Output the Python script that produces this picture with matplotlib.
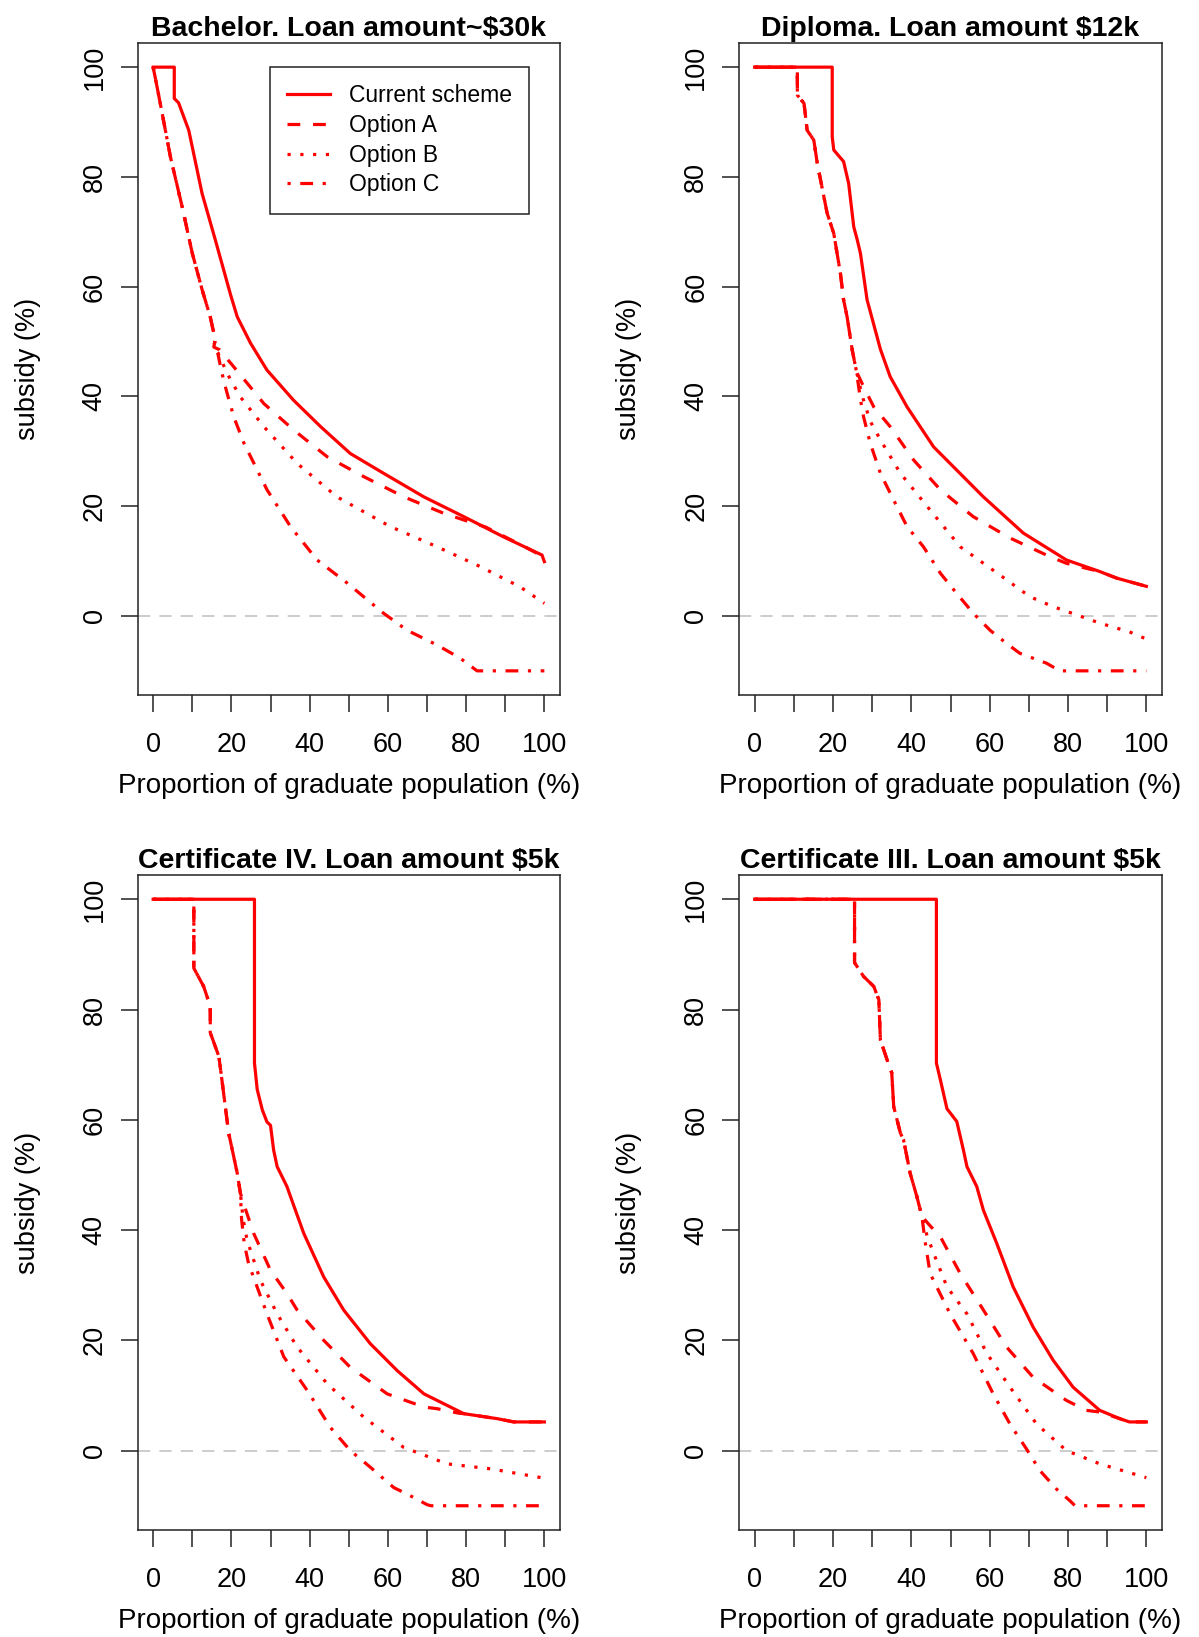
import matplotlib.pyplot as plt
import numpy as np

plt.rcParams['font.family'] = ['Liberation Sans', 'DejaVu Sans']

W, H = 1199, 1637

titles = ['Bachelor. Loan amount~$30k', 'Diploma. Loan amount $12k',
          'Certificate IV. Loan amount $5k', 'Certificate III. Loan amount $5k']
series_names = ['Current scheme', 'Option A', 'Option B', 'Option C']

# --- Bachelor ---
bach_cur_x = [0, 5.4, 5.4, 6.5, 9.1, 12.5, 15.9, 19.8, 21.5, 24.9, 29.1, 35.9, 42.8, 50.4,
              58.9, 69.2, 79.4, 89.6, 99.4, 100]
bach_cur_y = [100, 100, 94.3, 93.5, 88.5, 77, 68.5, 58.5, 54.5, 49.7, 44.8, 39.3, 34.5, 29.6,
              26.0, 21.7, 18.1, 14.4, 11.1, 9.9]
bach_opt_x = [0, 1.0, 2.3, 4.4, 7.4, 10.0, 12.5, 14.6, 15.2, 15.9, 15.5]
bach_opt_y = [100, 96.4, 91.6, 83.7, 74.6, 66.1, 59.5, 54.5, 52.5, 50.5, 49.0]
bach_a_x = [17.0, 18.0, 20.6, 28.3, 35.9, 44.5, 53.8, 64.1, 74.3, 79.4, 85, 90, 95, 100]
bach_a_y = [48.5, 47.6, 45.4, 38.7, 33.9, 29.0, 25.4, 21.7, 18.7, 17.5, 16.2, 14.4, 12.6, 10.7]
bach_b_x = [16.5, 17.5, 18.9, 22.3, 28.3, 36.8, 47.0, 60.6, 72.6, 83.6, 93.8, 100]
bach_b_y = [48.0, 46.5, 44.2, 39.9, 34.5, 27.8, 21.7, 16.3, 12.6, 9.0, 5.3, 2.3]
bach_c_x = [16.5, 17.2, 18.0, 18.9, 20.6, 23.2, 29.1, 35.1, 41.9, 49.6, 58.9, 64.9, 72.6,
            78.5, 82.8, 100]
bach_c_y = [48.0, 45.5, 43.0, 40.6, 36.3, 31.5, 23.0, 16.3, 10.2, 6.0, 0.5, -2.6, -5.3,
            -7.7, -10, -10]

# --- Diploma ---
dip_cur_x = [0, 19.8, 19.8, 20.2, 22.7, 24.0, 25.3, 26.2, 27.0, 28.7, 29.5, 32.1, 34.6, 38.9,
             45.7, 58.4, 68.6, 79.6, 88.1, 92.4, 100]
dip_cur_y = [100, 100, 87.3, 84.9, 82.8, 78.8, 70.9, 68.5, 66.1, 57.6, 55.5, 48.6, 43.6, 38.1,
             30.8, 21.7, 15.1, 10.2, 8.1, 6.9, 5.4]
dip_opt_x = [0, 10.9, 10.9, 12.6, 13.4, 15.1, 16.0, 18.5, 20.2, 21.9, 22.7, 23.6, 24.9, 26.0]
dip_opt_y = [100, 100, 94.9, 93.4, 88.5, 86.7, 82.4, 73.4, 69.7, 62.4, 57.6, 54.5, 48.5, 44.5]
dip_a_x = [28.0, 30.4, 34.6, 40.6, 47.4, 55.8, 65.2, 75.4, 79.6, 84, 88.1, 92.4, 100]
dip_a_y = [41.5, 38.1, 34.5, 28.4, 23.0, 18.1, 14.2, 10.8, 9.6, 8.8, 8.1, 6.9, 5.4]
dip_b_x = [27.5, 29.5, 32.1, 37.2, 44.8, 52.5, 58.4, 64.3, 70.3, 76.2, 82.2, 88.1, 95.7, 100]
dip_b_y = [40.0, 35.5, 32.1, 26.0, 19.3, 12.6, 9.6, 6.6, 3.5, 1.7, 0.2, -1.3, -2.9, -4.2]
dip_c_x = [27.0, 27.8, 29.5, 32.1, 35.5, 38.9, 43.1, 47.4, 51.6, 55.8, 60.1, 64.3, 67.7,
           74.5, 77.9, 100]
dip_c_y = [39.5, 36.3, 31.5, 26.0, 21.1, 16.3, 12.6, 7.8, 4.1, 0.5, -2.6, -5.0, -6.8,
           -8.6, -10, -10]

# --- Certificate IV ---
c4_cur_x = [0, 25.9, 25.9, 26.6, 27.9, 29.1, 30.0, 30.8, 31.7, 34.2, 35.1, 38.5, 43.6, 48.7,
            55.5, 62.4, 69.2, 76.0, 79.4, 87.9, 92.2, 100]
c4_cur_y = [100, 100, 70.3, 65.5, 61.8, 59.6, 59.0, 54.5, 51.5, 47.9, 46.1, 39.4, 31.5, 25.5,
            19.4, 14.5, 10.3, 7.9, 6.7, 5.8, 5.2, 5.2]
c4_opt_x = [0, 10.4, 10.4, 12.9, 14.6, 14.6, 16.8, 18.0, 19.3, 20.6, 21.5, 22.3]
c4_opt_y = [100, 100, 87.5, 84.2, 80.6, 75.8, 71.5, 64.9, 57.6, 53.3, 50.3, 46.7]
c4_a_x = [23.5, 25.7, 30.0, 34.2, 36.8, 43.6, 50.4, 59.8, 69.2, 72.6, 78, 79.4, 87.9, 92.2, 100]
c4_a_y = [44.0, 39.4, 32.7, 28.5, 25.5, 20.0, 15.1, 10.3, 7.9, 7.6, 6.8, 6.7, 5.8, 5.2, 5.2]
c4_b_x = [23.0, 24.0, 27.4, 31.7, 36.8, 44.5, 53.8, 64.0, 75.1, 86.2, 100]
c4_b_y = [42.0, 38.2, 30.9, 24.8, 18.8, 12.1, 6.1, 0.6, -2.4, -3.3, -5.0]
c4_c_x = [22.6, 23.3, 24.4, 29.1, 33.4, 39.4, 45.3, 50.4, 55.5, 61.5, 66.6, 70.0, 71.0, 100]
c4_c_y = [42.0, 37.5, 33.9, 24.8, 17.0, 10.9, 4.2, 0.0, -3.0, -6.7, -8.5, -9.8, -10, -10]

# --- Certificate III ---
c3_cur_x = [0, 46.4, 46.4, 47.4, 49.1, 51.6, 53.3, 54.2, 56.7, 58.4, 61.8, 66.0, 71.1, 76.2,
            81.3, 88.1, 93.2, 95.7, 100]
c3_cur_y = [100, 100, 70.3, 67.3, 62.0, 59.7, 54.5, 51.5, 47.9, 43.6, 37.6, 29.7, 22.4, 16.4,
            11.5, 7.3, 5.8, 5.2, 5.2]
c3_opt_x = [0, 25.5, 25.5, 27.8, 30.4, 31.7, 32.1, 33.8, 35.0, 35.5, 37.2, 38.0, 39.7, 41.4, 42.7]
c3_opt_y = [100, 100, 88.5, 86.0, 84.2, 81.8, 74.5, 70.9, 68.5, 62.4, 57.6, 56.4, 50.3, 46.1, 42.5]
c3_a_x = [44.5, 47.4, 52.5, 58.4, 64.3, 71.1, 79.6, 84.7, 88.1, 93.2, 95.7, 100]
c3_a_y = [41.0, 38.8, 32.1, 25.5, 18.8, 13.3, 9.1, 7.3, 7.0, 5.8, 5.2, 5.2]
c3_b_x = [44.0, 45.7, 49.1, 54.2, 59.3, 65.2, 72.0, 79.6, 88.1, 100]
c3_b_y = [39.0, 35.8, 29.7, 24.8, 17.6, 11.5, 4.8, 0.0, -2.4, -4.9]
c3_c_x = [43.5, 44.8, 49.9, 55.8, 60.9, 65.2, 69.4, 72.8, 77.1, 80.5, 81.8, 100]
c3_c_y = [38.0, 32.1, 24.8, 17.6, 10.3, 4.8, 0.3, -3.6, -7.0, -9.1, -10, -10]

panels = [
    (bach_cur_x, bach_cur_y, bach_opt_x, bach_opt_y, bach_a_x, bach_a_y, bach_b_x, bach_b_y, bach_c_x, bach_c_y),
    (dip_cur_x, dip_cur_y, dip_opt_x, dip_opt_y, dip_a_x, dip_a_y, dip_b_x, dip_b_y, dip_c_x, dip_c_y),
    (c4_cur_x, c4_cur_y, c4_opt_x, c4_opt_y, c4_a_x, c4_a_y, c4_b_x, c4_b_y, c4_c_x, c4_c_y),
    (c3_cur_x, c3_cur_y, c3_opt_x, c3_opt_y, c3_a_x, c3_a_y, c3_b_x, c3_b_y, c3_c_x, c3_c_y),
]

# axes boxes in pixels: left, top, right, bottom
boxes = [(137.5, 43, 560, 695), (739, 43, 1162, 695),
         (137.5, 875, 560, 1530), (739, 875, 1162, 1530)]

styles = ['-', (0, (4, 4)), (0, (1, 3)), (0, (1, 3, 4, 3))]
red = '#ff0000'
lw = 2.3

fig = plt.figure(figsize=(W / 100, H / 100), dpi=100)

for i, (title, data, box) in enumerate(zip(titles, panels, boxes)):
    l, t, r, b = box
    ax = fig.add_axes([l / W, 1 - b / H, (r - l) / W, (b - t) / H])
    cx, cy, ox, oy, ax_, ay_, bx, by, ccx, ccy = data
    lines = []
    lines.append(ax.plot(cx, cy, color=red, lw=lw, linestyle=styles[0], zorder=4)[0])
    lines.append(ax.plot(ox + ax_, oy + ay_, color=red, lw=lw, linestyle=styles[1])[0])
    lines.append(ax.plot(ox + bx, oy + by, color=red, lw=lw, linestyle=styles[2])[0])
    lines.append(ax.plot(ox + ccx, oy + ccy, color=red, lw=lw, linestyle=styles[3])[0])
    ax.axhline(0, color='#bebebe', lw=1.1, dashes=(8, 6), zorder=0)

    ax.set_xlim(-4, 104)
    ax.set_ylim(-14.4, 104.4)
    xt = np.arange(0, 101, 10)
    ax.set_xticks(xt)
    ax.set_xticklabels([str(v) if v % 20 == 0 else '' for v in xt])
    yt = np.arange(0, 101, 20)
    ax.set_yticks(yt)
    ax.set_yticklabels([str(v) for v in yt], rotation=90, va='center')
    ax.tick_params(axis='both', direction='out', length=12.5, width=1.1,
                   labelsize=19.5, color='#222222')
    ax.tick_params(axis='x', pad=14)
    ax.tick_params(axis='y', pad=9)
    for s in ax.spines.values():
        s.set_linewidth(1.1)
        s.set_color('#222222')

    ax.set_title(title, fontsize=20.5, fontweight='bold', pad=5)
    ax.set_xlabel('Proportion of graduate population (%)', fontsize=20)
    ax.set_ylabel('subsidy (%)', fontsize=19.5)
    hpx = b - t
    wpx = r - l
    ax.xaxis.set_label_coords(0.5, -(773 - 695) / hpx)
    ax.yaxis.set_label_coords(-(137.5 - 41) / wpx, 0.5)

    if i == 0:
        leg = ax.legend(lines, series_names, loc='upper left',
                        bbox_to_anchor=(0.3136, 0.9637), borderaxespad=0,
                        fontsize=16.5, handlelength=1.85, handletextpad=0.85,
                        labelspacing=0.3, borderpad=0.75, fancybox=False,
                        framealpha=1, edgecolor='#222222')
        leg.get_frame().set_linewidth(1.1)

fig.savefig('out.png', dpi=100)
